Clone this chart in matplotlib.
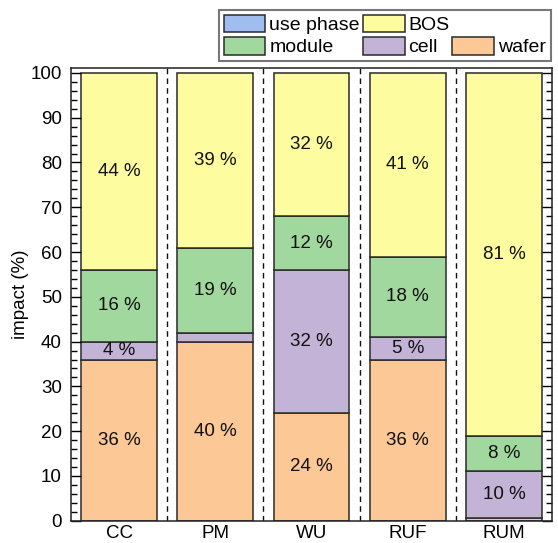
import matplotlib
matplotlib.use("Agg")
import matplotlib.pyplot as plt
from matplotlib.patches import Patch
import numpy as np

plt.rcParams['font.family'] = ['Liberation Sans', 'DejaVu Sans']
plt.rcParams['font.size'] = 13.5

# Scenarios and impact share per life-cycle stage (%)
scenarios = ["CC", "PM", "WU", "RUF", "RUM"]
wafer = [36, 40, 24, 36, 0.6]
cell = [4, 2, 32, 5, 10.4]
module = [16, 19, 12, 18, 8]
use_phase = [0, 0, 0, 0, 0]
bos = [44, 39, 32, 41, 81]

stages = [
    ("wafer", wafer, "#fcc896"),
    ("cell", cell, "#c3b3d7"),
    ("module", module, "#a1d89e"),
    ("use phase", use_phase, "#a0bdf0"),
    ("BOS", bos, "#fdfd9f"),
]

fig = plt.figure(figsize=(5.58, 5.43), dpi=100)
ax = fig.add_axes([71 / 558, 1 - 520.7 / 543, (552 - 71) / 558, (520.7 - 68) / 543])

x = np.arange(len(scenarios))
width = 0.79
bottom = np.zeros(len(scenarios))
handles = {}
for name, vals, color in stages:
    vals = np.array(vals, dtype=float)
    ax.bar(x, vals, width, bottom=bottom, color=color,
           edgecolor="#2a2a2a", linewidth=1.1, label=name)
    handles[name] = Patch(facecolor=color, edgecolor="#2a2a2a", linewidth=1.1)
    for xi, b, v in zip(x, bottom, vals):
        if v >= 4:
            ax.text(xi, b + v / 2, f"{round(v):d} %", ha="center", va="center",
                    fontsize=13.5, color="#111111")
    bottom += vals

# dashed separators between scenarios
for s in np.arange(0.5, len(scenarios) - 0.5, 1.0):
    ax.axvline(s, color="#111111", linestyle=(0, (4, 3)), linewidth=1.0)

ax.set_xlim(-0.5, len(scenarios) - 0.5)
ax.set_ylim(0, 101.1)
ax.set_xticks(x)
ax.set_xticklabels(scenarios)
ax.set_yticks(np.arange(0, 101, 10))
ax.set_yticks(np.arange(0, 101, 2), minor=True)
ax.tick_params(axis="y", which="major", direction="in", length=7, width=1,
               left=True, right=True, labelsize=13.5, pad=6.5)
ax.tick_params(axis="y", which="minor", direction="in", length=4, width=1,
               left=True, right=True)
ax.tick_params(axis="x", which="both", length=0, labelsize=13.5, pad=3)
ax.set_ylabel("impact (%)", fontsize=13.5, labelpad=1)
for sp in ax.spines.values():
    sp.set_linewidth(1.1)
    sp.set_color("#222222")

blank = Patch(facecolor="none", edgecolor="none")
leg_handles = [handles["use phase"], handles["module"], handles["BOS"],
               handles["cell"], blank, handles["wafer"]]
leg_labels = ["use phase", "module", "BOS", "cell", "", "wafer"]
leg = fig.legend(leg_handles, leg_labels, ncol=3, loc="upper right",
                 bbox_to_anchor=(551 / 558, 1 - 10 / 543), borderaxespad=0,
                 fancybox=False, fontsize=14, handlelength=2.15,
                 handleheight=1.0, handletextpad=0.2, columnspacing=0.15,
                 labelspacing=0.15, borderpad=0.25)
leg.get_frame().set_edgecolor("#555555")
leg.get_frame().set_linewidth(1.5)

fig.savefig("out.png", dpi=100)
